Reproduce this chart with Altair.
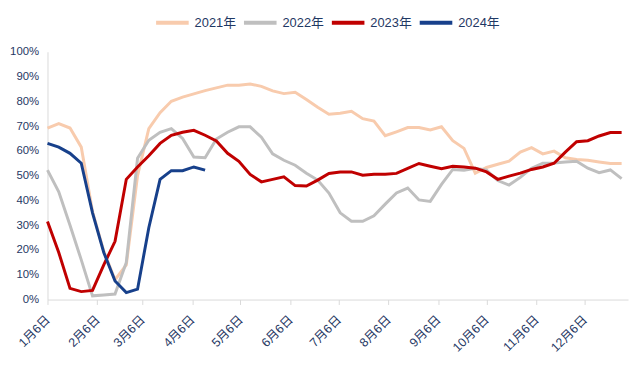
import altair as alt
import pandas as pd

# Weekly series, starting 1月6日, one value per week (percent)
start_date = "2021-01-06"
series_names = ["2021年", "2022年", "2023年", "2024年"]
series_colors = ["#F8CBAD", "#BFBFBF", "#C00000", "#17408B"]

v2021 = [69.2, 71.0, 69.2, 61.5, 35.5, 19.5, 8.0, 14.0, 50.0, 69.0,
         75.4, 80.0, 81.7, 83.0, 84.3, 85.4, 86.5, 86.5, 87.0, 86.0,
         84.2, 83.1, 83.6, 80.7, 77.6, 74.8, 75.2, 76.0, 73.0, 72.0,
         66.1, 67.7, 69.4, 69.4, 68.4, 69.7, 64.1, 61.0, 51.0, 53.3,
         54.6, 55.8, 59.5, 61.3, 58.8, 59.9, 57.2, 56.5, 56.2, 55.5,
         54.9, 54.9]
v2022 = [52.2, 43.5, 30.0, 16.0, 1.5, 1.8, 2.2, 15.0, 57.0, 64.3,
         67.5, 69.0, 65.0, 57.5, 57.2, 64.8, 67.5, 69.7, 69.7, 65.5,
         58.8, 56.2, 54.2, 51.0, 48.2, 43.0, 35.0, 31.6, 31.6, 33.8,
         38.5, 43.0, 45.0, 40.2, 39.6, 46.5, 52.5, 52.2, 53.0, 52.2,
         48.0, 46.2, 49.3, 53.0, 55.0, 55.1, 55.5, 55.8, 53.0, 51.2,
         52.3, 48.8]
v2023 = [31.5, 19.0, 4.5, 3.2, 3.7, 14.0, 23.5, 48.5, 53.5, 58.0,
         63.0, 66.3, 67.5, 68.3, 66.3, 64.0, 59.0, 55.8, 50.5, 47.5,
         48.5, 49.5, 46.0, 45.8, 48.2, 50.9, 51.5, 51.5, 50.2, 50.6,
         50.6, 50.9, 52.9, 54.9, 53.8, 52.8, 53.8, 53.5, 53.0, 51.5,
         48.5, 49.8, 51.0, 52.5, 53.5, 55.0, 59.5, 63.7, 64.1, 66.0,
         67.4, 67.4]
v2024 = [63.0, 61.5, 59.0, 55.0, 35.0, 19.0, 7.5, 2.8, 4.2, 29.0,
         48.5, 52.0, 52.0, 53.5, 52.2]

tick_months = [1, 2, 3, 4, 5, 6, 7, 8, 9, 10, 11, 12]
y_ticks = [0, 10, 20, 30, 40, 50, 60, 70, 80, 90, 100]

rows = []
base = pd.Timestamp(start_date)
for name, vals in zip(series_names, [v2021, v2022, v2023, v2024]):
    for i, v in enumerate(vals):
        d = base + pd.Timedelta(days=7 * i)
        rows.append({"date": d.strftime("%Y-%m-%dT00:00:00"), "series": name, "value": v})
df = pd.DataFrame(rows)

navy = "#1F3864"
font = "Liberation Sans, Arial, Noto Sans CJK SC, sans-serif"

chart = alt.Chart(df).mark_line(strokeWidth=3).encode(
    x=alt.X(
        "date:T",
        scale=alt.Scale(domain=[alt.DateTime(year=2021, month=1, date=6),
                                alt.DateTime(year=2022, month=1, date=2)]),
        axis=alt.Axis(
            values=[alt.DateTime(year=2021, month=m, date=6) for m in tick_months],
            format="%-m月%-d日",
            labelAngle=-45,
            labelAlign="right",
            labelBaseline="middle",
            labelPadding=13,
            title=None,
            grid=False,
            domainColor="#D9D9D9",
            tickColor="#D9D9D9",
            tickSize=5,
            labelColor=navy,
            labelFontSize=12.5,
            labelFont=font,
        ),
    ),
    y=alt.Y(
        "value:Q",
        scale=alt.Scale(domain=[0, 100]),
        axis=alt.Axis(
            values=y_ticks,
            labelExpr="datum.value + '%'",
            title=None,
            grid=False,
            ticks=False,
            domainColor="#D9D9D9",
            labelColor=navy,
            labelFontSize=11.5,
            labelFont=font,
            labelPadding=9,
        ),
    ),
    color=alt.Color(
        "series:N",
        scale=alt.Scale(domain=series_names, range=series_colors),
        legend=alt.Legend(
            title=None,
            orient="none",
            legendX=108,
            legendY=-48,
            direction="horizontal",
            symbolType="stroke",
            symbolSize=1089,
            symbolStrokeWidth=4,
            labelFontSize=13,
            labelColor=navy,
            labelFont=font,
            labelOffset=4,
            columnPadding=0,
        ),
    ),
).properties(
    width=588,
    height=251,
    autosize=alt.AutoSizeParams(type="none"),
    padding={"left": 40, "top": 42, "right": 4, "bottom": 64},
).configure_view(stroke=None)

chart.save("out.html", embed_options={"renderer": "svg", "actions": False})
